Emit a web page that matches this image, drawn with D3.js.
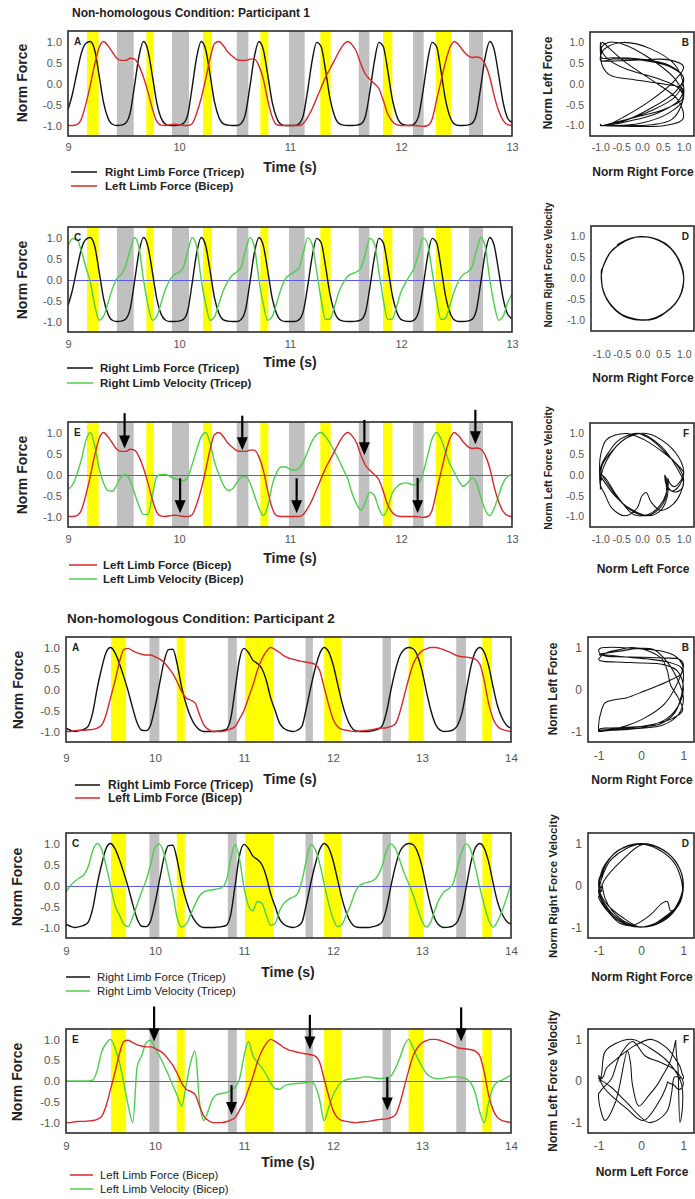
<!DOCTYPE html>
<html>
<head>
<meta charset="utf-8">
<script src="https://cdn.jsdelivr.net/npm/d3@7"></script>
<style>
  html, body { margin: 0; padding: 0; background: #fff; }
  svg { display: block; }
</style>
</head>
<body>
<svg id="fig" width="695" height="1199"></svg>
<script>
// ---------------- Participant 1: 9–13 s, samples every 0.04 s ----------------
const p1Start = 9, p1Step = 0.04;

const p1RightForce = [
  -0.62,-0.25,0.25,0.72,0.95,1.0,0.8,0.2,-0.45,-0.82,-0.97,
  -1.0,-0.99,-0.94,-0.7,-0.04,0.66,1.0,0.79,0.18,-0.46,
  -0.83,-0.97,-1.0,-1.0,-0.99,-0.95,-0.73,-0.06,0.64,1.0,
  0.81,0.21,-0.44,-0.81,-0.96,-0.99,-1.0,-1.0,-0.95,-0.71,
  -0.05,0.65,1.0,0.8,0.2,-0.45,-0.82,-0.97,-1.0,-1.0,
  -1.0,-0.96,-0.76,-0.15,0.55,0.98,0.88,0.32,-0.35,-0.76,
  -0.95,-0.99,-1.0,-1.0,-0.99,-0.96,-0.78,-0.18,0.52,0.98,
  0.88,0.32,-0.35,-0.76,-0.95,-0.99,-1.0,-0.96,-0.76,-0.15,
  0.55,0.98,0.88,0.3,-0.37,-0.78,-0.96,-1.0,-1.0,-0.99,
  -0.95,-0.72,-0.05,0.65,1.0,0.8,0.2,-0.45,-0.82,-0.93
];
const p1RightVel = [
  0.8,0.97,0.96,0.68,0.3,-0.05,-0.6,-0.97,-0.88,-0.56,-0.22,
  0.02,0.12,0.33,0.71,1.0,0.75,0.0,-0.6,-0.97,-0.88,
  -0.55,-0.22,0.0,0.12,0.17,0.3,0.68,1.0,0.77,0.0,
  -0.58,-0.97,-0.89,-0.57,-0.26,-0.05,0.1,0.18,0.3,0.7,
  1.0,0.76,0.0,-0.6,-0.97,-0.88,-0.56,-0.22,0.02,0.12,
  0.18,0.27,0.64,0.99,0.84,0.2,-0.47,-0.95,-0.94,-0.65,
  -0.3,-0.08,0.08,0.14,0.18,0.28,0.62,0.98,0.85,0.2,
  -0.47,-0.95,-0.94,-0.65,-0.3,-0.08,0.1,0.28,0.64,0.99,
  0.84,0.2,-0.47,-0.95,-0.93,-0.62,-0.28,-0.03,0.12,0.18,
  0.3,0.69,1.0,0.76,0.0,-0.6,-0.97,-0.88,-0.56,-0.35
];
const p1LeftForce = [
  -1.0,-1.0,-0.98,-0.85,-0.5,-0.05,0.45,0.85,1.0,0.9,0.75,
  0.6,0.55,0.55,0.6,0.58,0.42,0.15,-0.2,-0.6,-0.9,
  -0.99,-1.0,-0.98,-0.97,-0.98,-1.0,-1.0,-0.95,-0.7,-0.35,
  0.1,0.6,0.95,1.0,0.9,0.75,0.65,0.57,0.55,0.55,
  0.58,0.58,0.42,0.1,-0.4,-0.8,-0.98,-1.0,-1.0,-1.0,
  -1.0,-1.0,-0.95,-0.8,-0.6,-0.35,-0.1,0.15,0.35,0.55,
  0.75,0.92,1.0,0.92,0.75,0.45,0.22,0.1,0.0,-0.12,
  -0.4,-0.72,-0.9,-0.98,-1.0,-1.0,-1.0,-1.0,-1.01,-1.02,
  -1.0,-0.85,-0.4,0.05,0.5,0.85,1.0,0.92,0.78,0.67,
  0.62,0.63,0.6,0.45,0.15,-0.3,-0.65,-0.88,-0.98,-1.0
];
const p1LeftVel = [
  -0.35,-0.25,0.0,0.35,0.8,1.0,0.7,0.15,-0.2,-0.38,-0.4,
  -0.25,-0.05,0.0,-0.15,-0.45,-0.75,-0.95,-0.95,-0.5,-0.05,
  0.0,0.0,-0.05,-0.1,-0.12,-0.15,-0.05,0.25,0.6,0.9,
  1.0,0.75,0.3,0.0,-0.25,-0.38,-0.35,-0.2,-0.07,-0.05,
  -0.2,-0.5,-0.8,-0.98,-0.75,-0.25,0.05,0.18,0.18,0.12,
  0.1,0.15,0.3,0.55,0.8,0.95,1.0,0.9,0.75,0.55,
  0.35,0.12,-0.1,-0.45,-0.7,-0.85,-0.65,-0.42,-0.5,-0.8,
  -0.98,-0.8,-0.45,-0.3,-0.22,-0.2,-0.22,-0.25,-0.2,0.05,
  0.45,0.85,1.0,0.85,0.55,0.25,0.05,-0.15,-0.28,-0.2,
  -0.08,-0.2,-0.55,-0.85,-0.98,-0.8,-0.5,-0.2,-0.05,0.0
];
const p1YellowBands = [[9.171,9.276],[9.706,9.772],[10.216,10.297],[10.733,10.805],
  [11.273,11.366],[11.838,11.922],[12.312,12.45]];
const p1GrayBands = [[9.441,9.592],[9.937,10.09],[10.52,10.625],[10.991,11.132],
  [11.619,11.715],[12.108,12.204],[12.613,12.739]];
// [time, arrow tail value, arrow tip value]
const p1Arrows = [[9.51,1.46,0.62],[10.57,1.40,0.58],[11.67,1.30,0.46],[12.67,1.54,0.72],
  [10.01,-0.09,-0.92],[11.06,-0.09,-0.92],[12.15,-0.08,-0.92]];

// ---------------- Participant 2: 9–14 s, samples every 0.05 s ----------------
const p2Start = 9, p2Step = 0.05;

const p2RightForce = [
  -0.92,-0.97,-1.0,-0.98,-0.95,-0.87,-0.55,0.02,0.5,0.88,1.0,
  0.88,0.62,0.3,-0.05,-0.45,-0.8,-0.97,-0.98,-0.85,-0.42,
  0.12,0.65,0.95,0.96,0.6,0.05,-0.35,-0.65,-0.85,-0.96,
  -1.0,-1.0,-1.0,-0.99,-0.98,-0.95,-0.7,0.0,0.72,0.98,
  0.88,0.7,0.62,0.5,0.22,-0.2,-0.5,-0.8,-0.93,-0.98,
  -1.0,-0.97,-0.88,-0.45,0.05,0.5,0.85,1.0,0.9,0.6,
  0.15,-0.3,-0.65,-0.88,-0.98,-1.0,-1.0,-1.0,-0.98,-0.95,
  -0.87,-0.55,-0.02,0.45,0.8,0.95,1.0,0.97,0.8,0.45,
  -0.05,-0.5,-0.82,-0.96,-1.0,-0.99,-0.96,-0.85,-0.55,0.0,
  0.55,0.9,1.0,0.88,0.55,0.05,-0.4,-0.68,-0.85,-0.92
];
const p2RightVel = [
  -0.15,0.0,0.1,0.18,0.25,0.45,0.83,1.0,0.86,0.47,0.0,
  -0.47,-0.7,-0.92,-0.98,-0.75,-0.45,-0.15,0.12,0.5,0.9,
  0.99,0.76,0.3,-0.2,-0.78,-0.99,-0.92,-0.7,-0.45,-0.25,
  -0.15,-0.12,-0.1,-0.08,-0.05,0.1,0.62,0.98,0.62,-0.05,
  -0.48,-0.6,-0.38,-0.42,-0.7,-0.95,-0.9,-0.6,-0.42,-0.33,
  -0.28,-0.2,0.1,0.6,0.98,0.86,0.52,0.05,-0.42,-0.78,
  -0.98,-0.93,-0.7,-0.45,-0.15,0.0,0.05,0.08,0.12,0.22,
  0.45,0.82,0.99,0.88,0.6,0.3,0.05,-0.22,-0.55,-0.85,
  -0.99,-0.86,-0.55,-0.3,-0.15,-0.08,0.05,0.45,0.83,0.99,
  0.83,0.42,-0.05,-0.47,-0.83,-0.99,-0.85,-0.6,-0.3,0.05
];
const p2LeftForce = [
  -1.0,-1.0,-0.98,-0.97,-0.97,-0.96,-0.95,-0.92,-0.85,-0.6,-0.2,
  0.2,0.65,0.95,0.98,0.92,0.87,0.84,0.82,0.82,0.78,
  0.73,0.65,0.52,0.38,0.18,-0.05,-0.2,-0.25,-0.32,-0.6,
  -0.85,-0.95,-1.0,-1.0,-1.0,-0.98,-0.94,-0.88,-0.7,-0.5,
  -0.2,0.1,0.45,0.72,0.9,1.0,0.95,0.88,0.8,0.75,
  0.72,0.69,0.67,0.65,0.63,0.6,0.45,0.05,-0.35,-0.7,
  -0.88,-0.95,-0.97,-0.99,-1.0,-0.99,-0.98,-0.97,-0.95,-0.93,
  -0.92,-0.91,-0.88,-0.82,-0.55,-0.15,0.25,0.6,0.8,0.92,
  0.97,1.0,1.0,0.98,0.94,0.9,0.85,0.8,0.78,0.77,
  0.75,0.72,0.6,0.2,-0.35,-0.7,-0.88,-0.95,-0.98,-1.0
];
const p2LeftVel = [
  0.0,0.0,0.0,0.0,0.0,0.0,0.02,0.25,0.7,0.9,1.0,
  0.8,0.45,-0.05,-0.6,-1.0,0.35,0.6,0.92,0.98,0.8,
  0.6,0.38,0.15,-0.1,-0.35,-0.6,-0.1,0.45,0.72,-0.5,
  -0.95,-0.7,-0.42,-0.32,-0.3,-0.28,-0.22,-0.15,0.05,0.6,
  0.95,0.6,0.45,0.32,0.15,-0.05,-0.18,-0.2,-0.12,-0.08,
  -0.07,-0.06,-0.05,-0.04,-0.02,-0.12,-0.45,-0.95,-0.65,-0.35,
  -0.15,-0.02,0.03,0.05,0.06,0.08,0.1,0.1,0.08,0.06,
  0.06,0.08,0.12,0.3,0.55,0.85,1.0,0.8,0.55,0.35,
  0.18,0.1,0.06,0.05,0.07,0.09,0.1,0.1,0.08,0.05,
  -0.05,-0.3,-0.75,-1.0,-0.5,-0.15,-0.02,0.02,0.08,0.15
];
const p2YellowBands = [[9.506,9.675],[10.244,10.334],[11.013,11.331],[11.901,12.092],
  [12.849,13.018],[13.678,13.786]];
const p2GrayBands = [[9.937,10.049],[10.818,10.919],[11.691,11.774],[12.557,12.651],[13.385,13.494]];
const p2Arrows = [[9.99,1.79,0.95],[11.74,1.59,0.76],[13.44,1.77,0.95],
  [10.86,-0.10,-0.82],[12.61,0.09,-0.71]];

// ---------------- tick values ----------------
const p1TimeTicks = [9, 10, 11, 12, 13];
const p2TimeTicks = [9, 10, 11, 12, 13, 14];
const forceTicks = [-1, -0.5, 0, 0.5, 1];
const p1PhaseTicks = [-1, -0.5, 0, 0.5, 1];
const p2PhaseTicks = [-1, 0, 1];

const p1Times = p1RightForce.map((_, i) => p1Start + i * p1Step);
const p2Times = p2RightForce.map((_, i) => p2Start + i * p2Step);

// ---------------- drawing ----------------
const FONT = "'Liberation Sans', Arial, Helvetica, sans-serif";
const COL = {
  black: "#111111", red: "#d8282c", green: "#4ccf4c",
  yellow: "#ffff00", gray: "#c0c0c0", zero: "#5a5ae6",
  frame: "#2b2b2b", tick: "#555555", label: "#222222"
};
const normDomain = [-1.25, 1.25];
const svg = d3.select("#fig");
const defs = svg.append("defs");

function label(g, x, y, str, o = {}) {
  return g.append("text")
    .attr("x", 0).attr("y", 0)
    .attr("dy", "0.35em")
    .attr("transform", `translate(${x},${y})` + (o.rotate ? ` rotate(${o.rotate})` : ""))
    .attr("text-anchor", o.anchor || "start")
    .attr("font-family", FONT)
    .attr("font-size", o.size || 11)
    .attr("font-weight", o.weight || "bold")
    .attr("fill", o.color || COL.label)
    .text(str);
}

function styleAxis(sel, size) {
  sel.select(".domain").remove();
  sel.attr("font-family", FONT).attr("font-size", size);
  sel.selectAll("text").attr("fill", COL.tick);
}

function timePanel(o) {
  const g = svg.append("g");
  const x = d3.scaleLinear().domain(o.domain).range([o.x0, o.x1]);
  const y = d3.scaleLinear().domain(normDomain).range([o.y1, o.y0]);
  const w = o.x1 - o.x0, h = o.y1 - o.y0;

  defs.append("clipPath").attr("id", "clip-" + o.id)
    .append("rect").attr("x", o.x0).attr("y", o.y0).attr("width", w).attr("height", h);
  const plot = g.append("g").attr("clip-path", `url(#clip-${o.id})`);

  // stimulus windows
  plot.selectAll(null).data(o.yellow).enter().append("rect")
    .attr("x", d => x(d[0])).attr("width", d => x(d[1]) - x(d[0]))
    .attr("y", o.y0).attr("height", h).attr("fill", COL.yellow);
  plot.selectAll(null).data(o.gray).enter().append("rect")
    .attr("x", d => x(d[0])).attr("width", d => x(d[1]) - x(d[0]))
    .attr("y", o.y0).attr("height", h).attr("fill", COL.gray);

  // zero reference line
  if (o.zero) {
    plot.append("line").attr("x1", o.x0).attr("x2", o.x1)
      .attr("y1", Math.round(y(0)) + 0.5).attr("y2", Math.round(y(0)) + 0.5)
      .attr("stroke", COL.zero).attr("stroke-width", 1);
  }

  label(g, o.x0 + 6, o.y0 + 10, o.letter, { size: 10 });

  const line = d3.line()
    .x((d, i) => x(o.times[i]))
    .y(d => y(d))
    .curve(d3.curveMonotoneX);
  o.series.forEach(s => {
    plot.append("path").datum(s.values)
      .attr("d", line).attr("fill", "none")
      .attr("stroke", s.color).attr("stroke-width", 1.4)
      .attr("stroke-linejoin", "round");
  });

  g.append("rect").attr("x", o.x0).attr("y", o.y0).attr("width", w).attr("height", h)
    .attr("fill", "none").attr("stroke", COL.frame).attr("stroke-width", 1.6);

  const ya = g.append("g").attr("transform", `translate(${o.x0},0)`)
    .call(d3.axisLeft(y).tickValues(forceTicks).tickSize(0).tickPadding(6)
      .tickFormat(d => d.toFixed(1)));
  styleAxis(ya, o.tickSize);
  const xa = g.append("g").attr("transform", `translate(0,${o.y1})`)
    .call(d3.axisBottom(x).tickValues(o.ticks).tickSize(0).tickPadding(o.xPad)
      .tickFormat(d3.format("d")));
  styleAxis(xa, o.tickSize);

  label(g, o.yLab[0], o.yLab[1], "Norm Force", { size: 14, anchor: "middle", rotate: -90 });
  label(g, o.tLab[0], o.tLab[1], "Time (s)", { size: 14, anchor: "middle" });

  o.legend.items.forEach((it, k) => {
    const ly = o.legend.y[k];
    g.append("line").attr("x1", o.legend.x0).attr("x2", o.legend.x1)
      .attr("y1", ly).attr("y2", ly).attr("stroke", it.color).attr("stroke-width", 1.5);
    label(g, o.legend.tx, ly, it.text, { size: o.legend.size, weight: o.legend.weight });
  });

  if (o.arrows) {
    const headW = 11, headH = 13;
    o.arrows.forEach(a => {
      const ax = x(a[0]), yTail = y(a[1]), yTip = y(a[2]);
      g.append("line").attr("x1", ax).attr("x2", ax)
        .attr("y1", yTail).attr("y2", yTip - headH + 1)
        .attr("stroke", "#000").attr("stroke-width", 2.2);
      g.append("path")
        .attr("d", `M${ax},${yTip}L${ax - headW / 2},${yTip - headH}L${ax + headW / 2},${yTip - headH}Z`)
        .attr("fill", "#000");
    });
  }
}

function phasePanel(o) {
  const g = svg.append("g");
  const x = d3.scaleLinear().domain(normDomain).range([o.x0, o.x1]);
  const y = d3.scaleLinear().domain(normDomain).range([o.y1, o.y0]);
  const w = o.x1 - o.x0, h = o.y1 - o.y0;

  defs.append("clipPath").attr("id", "clip-" + o.id)
    .append("rect").attr("x", o.x0).attr("y", o.y0).attr("width", w).attr("height", h);

  const pts = d3.zip(o.xs, o.ys);
  g.append("g").attr("clip-path", `url(#clip-${o.id})`)
    .append("path").datum(pts)
    .attr("d", d3.line().x(d => x(d[0])).y(d => y(d[1])).curve(d3.curveCatmullRom.alpha(0.5)))
    .attr("fill", "none").attr("stroke", "#111").attr("stroke-width", 1.05)
    .attr("stroke-linejoin", "round");

  g.append("rect").attr("x", o.x0).attr("y", o.y0).attr("width", w).attr("height", h)
    .attr("fill", "none").attr("stroke", COL.frame).attr("stroke-width", 1.6);

  label(g, o.x1 - 5, o.y0 + 10, o.letter, { size: 10, anchor: "end" });

  const fmt = o.decimals ? (d => d.toFixed(1)) : (d => String(d));
  const ya = g.append("g").attr("transform", `translate(${o.x0},0)`)
    .call(d3.axisLeft(y).tickValues(o.ticks).tickSize(0).tickPadding(6).tickFormat(fmt));
  styleAxis(ya, o.tickSize);
  const xa = g.append("g").attr("transform", `translate(0,${o.y1})`)
    .call(d3.axisBottom(x).tickValues(o.ticks).tickSize(0).tickPadding(o.xPad).tickFormat(fmt));
  styleAxis(xa, o.tickSize);

  label(g, o.xLab[0], o.xLab[1], o.xTitle, { size: 12, anchor: "middle" });
  label(g, o.yLab[0], o.yLab[1], o.yTitle, { size: o.yTitleSize, anchor: "middle", rotate: -90 });
}

// ---------------- Participant 1 ----------------
label(svg, 72, 13, "Non-homologous Condition: Participant 1", { size: 12 });

timePanel({
  id: "p1a", x0: 68, x1: 512, y0: 31, y1: 136, domain: [9, 13], ticks: p1TimeTicks,
  times: p1Times, yellow: p1YellowBands, gray: p1GrayBands, letter: "A",
  series: [{ values: p1RightForce, color: COL.black }, { values: p1LeftForce, color: COL.red }],
  tickSize: 11, xPad: 7, yLab: [22, 83], tLab: [290, 167],
  legend: { x0: 71, x1: 97, tx: 105, y: [172, 186], size: 11.5, weight: "bold",
    items: [{ text: "Right Limb Force (Tricep)", color: COL.black },
            { text: "Left Limb Force (Bicep)", color: COL.red }] }
});
timePanel({
  id: "p1c", x0: 68, x1: 512, y0: 227, y1: 332, domain: [9, 13], ticks: p1TimeTicks,
  times: p1Times, yellow: p1YellowBands, gray: p1GrayBands, letter: "C", zero: true,
  series: [{ values: p1RightForce, color: COL.black }, { values: p1RightVel, color: COL.green }],
  tickSize: 11, xPad: 8, yLab: [22, 280], tLab: [290, 362],
  legend: { x0: 67, x1: 93, tx: 100, y: [368, 383], size: 11.5, weight: "bold",
    items: [{ text: "Right Limb Force (Tricep)", color: COL.black },
            { text: "Right Limb Velocity (Tricep)", color: COL.green }] }
});
timePanel({
  id: "p1e", x0: 68, x1: 512, y0: 422, y1: 527, domain: [9, 13], ticks: p1TimeTicks,
  times: p1Times, yellow: p1YellowBands, gray: p1GrayBands, letter: "E", zero: true,
  series: [{ values: p1LeftVel, color: COL.green }, { values: p1LeftForce, color: COL.red }],
  tickSize: 11, xPad: 8, yLab: [22, 475], tLab: [290, 558], arrows: p1Arrows,
  legend: { x0: 69, x1: 97, tx: 103, y: [565, 579], size: 11.5, weight: "bold",
    items: [{ text: "Left Limb Force (Bicep)", color: COL.red },
            { text: "Left Limb Velocity (Bicep)", color: COL.green }] }
});

phasePanel({
  id: "p1b", x0: 590, x1: 694, y0: 32, y1: 136, xs: p1RightForce, ys: p1LeftForce,
  ticks: p1PhaseTicks, decimals: true, tickSize: 10.5, xPad: 8, letter: "B",
  xTitle: "Norm Right Force", xLab: [643, 172],
  yTitle: "Norm Left Force", yLab: [548, 83], yTitleSize: 12
});
phasePanel({
  id: "p1d", x0: 591, x1: 694, y0: 226, y1: 331, xs: p1RightForce, ys: p1RightVel,
  ticks: p1PhaseTicks, decimals: true, tickSize: 10.5, xPad: 20, letter: "D",
  xTitle: "Norm Right Force", xLab: [643, 378],
  yTitle: "Norm Right Force Velocity", yLab: [548, 265], yTitleSize: 10
});
phasePanel({
  id: "p1f", x0: 590, x1: 694, y0: 423, y1: 527, xs: p1LeftForce, ys: p1LeftVel,
  ticks: p1PhaseTicks, decimals: true, tickSize: 10.5, xPad: 9, letter: "F",
  xTitle: "Norm Left Force", xLab: [643, 569],
  yTitle: "Norm Left Force Velocity", yLab: [548, 468], yTitleSize: 10.5
});

// ---------------- Participant 2 ----------------
label(svg, 67, 618, "Non-homologous Condition: Participant 2", { size: 13.5 });

timePanel({
  id: "p2a", x0: 66, x1: 511, y0: 637, y1: 742, domain: [9, 14], ticks: p2TimeTicks,
  times: p2Times, yellow: p2YellowBands, gray: p2GrayBands, letter: "A",
  series: [{ values: p2RightForce, color: COL.black }, { values: p2LeftForce, color: COL.red }],
  tickSize: 11.5, xPad: 12, yLab: [18, 690], tLab: [290, 779],
  legend: { x0: 75, x1: 100, tx: 108, y: [785, 798], size: 12, weight: "bold",
    items: [{ text: "Right Limb Force (Tricep)", color: COL.black },
            { text: "Left Limb Force (Bicep)", color: COL.red }] }
});
timePanel({
  id: "p2c", x0: 66, x1: 511, y0: 833, y1: 938, domain: [9, 14], ticks: p2TimeTicks,
  times: p2Times, yellow: p2YellowBands, gray: p2GrayBands, letter: "C", zero: true,
  series: [{ values: p2RightForce, color: COL.black }, { values: p2RightVel, color: COL.green }],
  tickSize: 11.5, xPad: 9, yLab: [17, 887], tLab: [288, 972],
  legend: { x0: 66, x1: 90, tx: 97, y: [977, 991], size: 11.4, weight: "normal",
    items: [{ text: "Right Limb Force (Tricep)", color: COL.black },
            { text: "Right Limb Velocity (Tricep)", color: COL.green }] }
});
timePanel({
  id: "p2e", x0: 66, x1: 511, y0: 1029, y1: 1133, domain: [9, 14], ticks: p2TimeTicks,
  times: p2Times, yellow: p2YellowBands, gray: p2GrayBands, letter: "E", zero: true,
  series: [{ values: p2LeftVel, color: COL.green }, { values: p2LeftForce, color: COL.red }],
  tickSize: 11.5, xPad: 9, yLab: [17, 1082], tLab: [288, 1162], arrows: p2Arrows,
  legend: { x0: 70, x1: 93, tx: 100, y: [1175, 1189], size: 11.4, weight: "normal",
    items: [{ text: "Left Limb Force (Bicep)", color: COL.red },
            { text: "Left Limb Velocity (Bicep)", color: COL.green }] }
});

phasePanel({
  id: "p2b", x0: 588, x1: 694, y0: 637, y1: 742, xs: p2RightForce, ys: p2LeftForce,
  ticks: p2PhaseTicks, decimals: false, tickSize: 12, xPad: 9, letter: "B",
  xTitle: "Norm Right Force", xLab: [642, 780],
  yTitle: "Norm Left Force", yLab: [553, 689], yTitleSize: 12
});
phasePanel({
  id: "p2d", x0: 588, x1: 694, y0: 833, y1: 938, xs: p2RightForce, ys: p2RightVel,
  ticks: p2PhaseTicks, decimals: false, tickSize: 12, xPad: 8, letter: "D",
  xTitle: "Norm Right Force", xLab: [642, 977],
  yTitle: "Norm Right Force Velocity", yLab: [553, 886], yTitleSize: 11.5
});
phasePanel({
  id: "p2f", x0: 588, x1: 694, y0: 1029, y1: 1133, xs: p2LeftForce, ys: p2LeftVel,
  ticks: p2PhaseTicks, decimals: false, tickSize: 12, xPad: 8, letter: "F",
  xTitle: "Norm Left Force", xLab: [642, 1172],
  yTitle: "Norm Left Force Velocity", yLab: [553, 1081], yTitleSize: 12
});
</script>
</body>
</html>
